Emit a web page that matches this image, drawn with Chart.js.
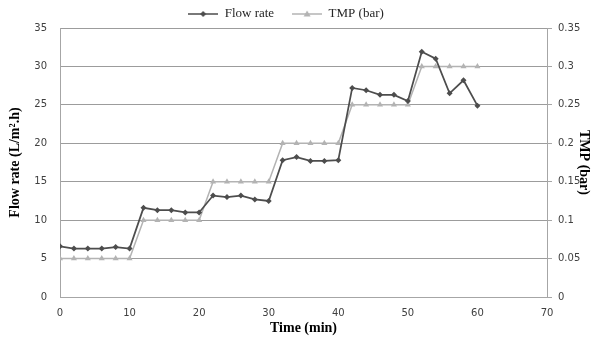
<!DOCTYPE html>
<html>
<head>
<meta charset="utf-8">
<script src="https://cdn.jsdelivr.net/npm/chart.js@4/dist/chart.umd.min.js"></script>
<style>
  html, body { margin: 0; padding: 0; background: #fff; }
  #wrap { width: 606px; height: 340px; }
</style>
</head>
<body>
<div id="wrap"><canvas id="grafico" width="606" height="340"></canvas></div>
<script>
// data
const tempos = [0, 2, 4, 6, 8, 10, 12, 14, 16, 18, 20, 22, 24, 26, 28, 30,
  32, 34, 36, 38, 40, 42, 44, 46, 48, 50, 52, 54, 56, 58, 60];
const fluxo = [6.6, 6.3, 6.3, 6.3, 6.5, 6.3, 11.6, 11.3, 11.3, 11.0, 11.0,
  13.2, 13.0, 13.2, 12.7, 12.5, 17.8, 18.2, 17.7, 17.7, 17.8,
  27.2, 26.9, 26.3, 26.3, 25.5, 31.9, 31.0, 26.5, 28.2, 24.9];
const tmp = [0.05, 0.05, 0.05, 0.05, 0.05, 0.05, 0.1, 0.1, 0.1, 0.1, 0.1,
  0.15, 0.15, 0.15, 0.15, 0.15, 0.2, 0.2, 0.2, 0.2, 0.2,
  0.25, 0.25, 0.25, 0.25, 0.25, 0.3, 0.3, 0.3, 0.3, 0.3];
const ticksTempo = [0, 10, 20, 30, 40, 50, 60, 70];
const ticksFluxo = [0, 5, 10, 15, 20, 25, 30, 35];
const ticksTmp = [0, 0.05, 0.1, 0.15, 0.2, 0.25, 0.3, 0.35];

const corFluxo = "#4d4d4d";
const corTmp = "#b3b3b3";

function iconeLegenda(cor, estilo) {
  const c = document.createElement("canvas");
  c.width = 30;
  c.height = 10;
  const ctx = c.getContext("2d");
  ctx.strokeStyle = cor;
  ctx.fillStyle = cor;
  ctx.lineWidth = 1.5;
  ctx.beginPath();
  ctx.moveTo(0, 5);
  ctx.lineTo(30, 5);
  ctx.stroke();
  ctx.beginPath();
  if (estilo === "losango") {
    ctx.moveTo(15, 2); ctx.lineTo(18, 5); ctx.lineTo(15, 8); ctx.lineTo(12, 5);
  } else {
    ctx.moveTo(15, 1.5); ctx.lineTo(18.5, 7.5); ctx.lineTo(11.5, 7.5);
  }
  ctx.closePath();
  ctx.fill();
  return c;
}
const icones = [iconeLegenda(corFluxo, "losango"), iconeLegenda(corTmp, "triangulo")];

function fixarTicks(lista) {
  return (scale) => {
    scale.ticks = lista.map((v) => ({ value: v }));
  };
}

const ajusteLegenda = {
  id: "ajusteLegenda",
  beforeInit(chart) {
    const fitOriginal = chart.legend.fit;
    chart.legend.fit = function () {
      fitOriginal.bind(chart.legend)();
      this.height = 28;
    };
  },
  afterLayout(chart) {
    chart.legend.right -= 34;
    chart.legend.top -= 10.5;
  },
};

Chart.defaults.font.family = "'DejaVu Sans'";
Chart.defaults.font.size = 10;
Chart.defaults.color = "#404040";

const tituloFonte = { family: "'Liberation Serif'", size: 14, weight: "bold" };

new Chart(document.getElementById("grafico"), {
  type: "line",
  data: {
    datasets: [
      {
        label: "Flow rate",
        data: tempos.map((t, i) => ({ x: t, y: fluxo[i] })),
        yAxisID: "y",
        borderColor: corFluxo,
        backgroundColor: corFluxo,
        borderWidth: 1.75,
        pointStyle: "rectRot",
        pointRadius: 3,
        pointBackgroundColor: corFluxo,
        pointBorderWidth: 0,
        tension: 0,
      },
      {
        label: "TMP (bar)",
        data: tempos.map((t, i) => ({ x: t, y: tmp[i] })),
        yAxisID: "y2",
        borderColor: corTmp,
        backgroundColor: corTmp,
        borderWidth: 1.5,
        pointStyle: "triangle",
        pointRadius: 3.5,
        pointBackgroundColor: corTmp,
        pointBorderWidth: 0,
        tension: 0,
      },
    ],
  },
  options: {
    responsive: false,
    animation: false,
    layout: { padding: 0 },
    plugins: {
      tooltip: { enabled: false },
      legend: {
        position: "top",
        labels: {
          usePointStyle: true,
          pointStyleWidth: 30,
          padding: 18,
          color: "#262626",
          font: { family: "'Liberation Serif'", size: 13 },
          generateLabels(chart) {
            const itens = Chart.defaults.plugins.legend.labels.generateLabels(chart);
            itens.forEach((item, i) => { item.pointStyle = icones[i]; });
            return itens;
          },
        },
      },
    },
    scales: {
      x: {
        type: "linear",
        min: 0,
        max: 70,
        afterBuildTicks: fixarTicks(ticksTempo),
        afterFit: (s) => { s.height = 43; },
        grid: { display: false, drawTicks: false },
        border: { display: true, color: "#a6a6a6", width: 1 },
        ticks: { padding: 10, maxRotation: 0 },
        title: {
          display: true,
          text: "Time (min)",
          color: "#000",
          font: tituloFonte,
          padding: { top: 0, bottom: 3 },
        },
      },
      y: {
        position: "left",
        min: 0,
        max: 35,
        afterBuildTicks: fixarTicks(ticksFluxo),
        afterFit: (s) => { s.width = 60; },
        grid: { color: "#9c9c9c", lineWidth: 1, drawTicks: false },
        border: { display: true, color: "#a6a6a6", width: 1 },
        ticks: { padding: 13 },
        title: {
          display: true,
          text: "Flow rate (L/m².h)",
          color: "#000",
          font: tituloFonte,
          padding: { top: 6.5, bottom: 0 },
        },
      },
      y2: {
        position: "right",
        min: 0,
        max: 0.35,
        afterBuildTicks: fixarTicks(ticksTmp),
        afterFit: (s) => { s.width = 59; },
        grid: { drawOnChartArea: false, color: "#a6a6a6", tickLength: 5 },
        border: { display: true, color: "#a6a6a6", width: 1 },
        ticks: { padding: 6, callback: (v) => String(v) },
        title: {
          display: true,
          text: "TMP (bar)",
          color: "#000",
          font: tituloFonte,
          padding: { top: 13.5, bottom: 0 },
        },
      },
    },
  },
  plugins: [ajusteLegenda],
});
</script>
</body>
</html>
